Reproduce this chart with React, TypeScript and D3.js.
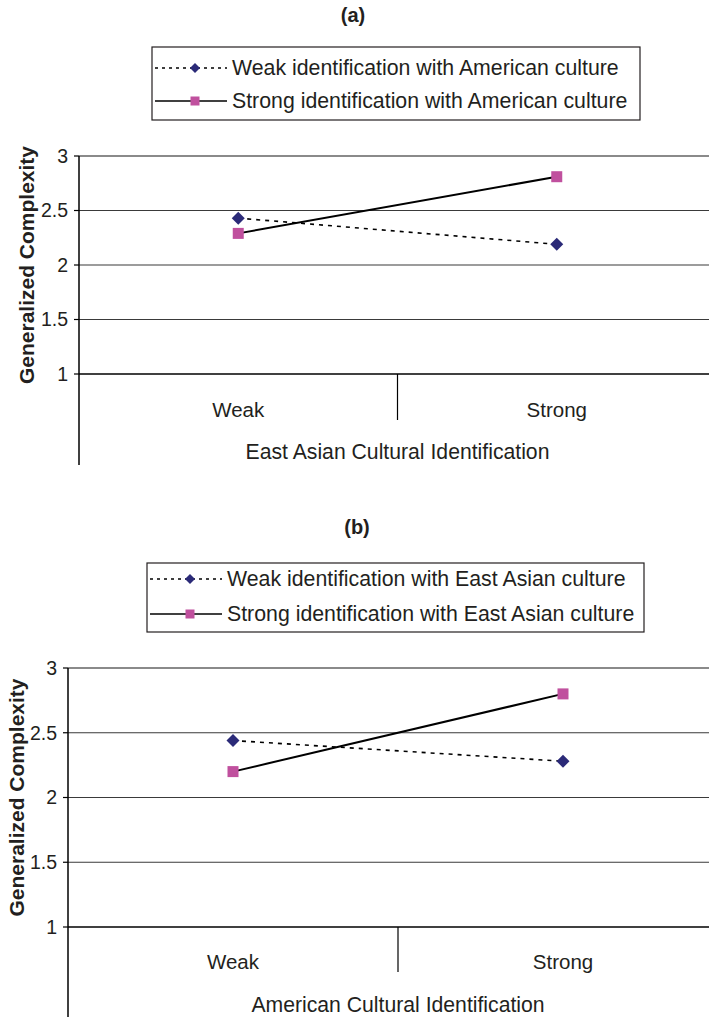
import React from "react";
import * as d3 from "d3";

const categories = ["Weak", "Strong"];
const yTicks = [1, 1.5, 2, 2.5, 3];

const panelATitle = "(a)";
const panelAXTitle = "East Asian Cultural Identification";
const panelASeriesNames = ["Weak identification with American culture", "Strong identification with American culture"];
const panelAWeak = [2.43, 2.19];
const panelAStrong = [2.29, 2.81];

const panelBTitle = "(b)";
const panelBXTitle = "American Cultural Identification";
const panelBSeriesNames = ["Weak identification with East Asian culture", "Strong identification with East Asian culture"];
const panelBWeak = [2.44, 2.28];
const panelBStrong = [2.2, 2.8];

const FONT = "'Liberation Sans', Arial, sans-serif";
const TEXT = "#231f20";
const NAVY = "#2b2a78";
const PINK = "#c0509e";

type PanelProps = {
  title: string;
  titleX: number;
  titleY: number;
  xTitle: string;
  names: string[];
  weak: number[];
  strong: number[];
  legend: { x: number; y: number; w: number; h: number; row1: number; row2: number };
  plot: { left: number; right: number; top: number; bottom: number; axisEnd: number; tickEnd: number; labelY: number; xTitleY: number };
  yTitleX: number;
};

function Diamond({ x, y, r }: { x: number; y: number; r: number }) {
  return <path d={`M${x},${y - r}L${x + r},${y}L${x},${y + r}L${x - r},${y}Z`} fill={NAVY} />;
}
function Square({ x, y, s }: { x: number; y: number; s: number }) {
  return <rect x={x - s / 2} y={y - s / 2} width={s} height={s} fill={PINK} />;
}

function Panel(p: PanelProps) {
  const { plot, legend } = p;
  const y = d3.scaleLinear().domain([1, 3]).range([plot.bottom, plot.top]);
  const band = d3.scaleBand().domain(categories).range([plot.left, plot.right]);
  const cx = (c: string) => (band(c) as number) + band.bandwidth() / 2;
  const line = d3
    .line<number>()
    .x((_, i) => cx(categories[i]))
    .y((d) => y(d));
  const divX = plot.left + band.bandwidth();
  const lx0 = legend.x + 3;
  const lx1 = legend.x + 75;
  const lm = (lx0 + lx1) / 2 + 4;
  return (
    <g>
      <text x={p.titleX} y={p.titleY} textAnchor="middle" fontFamily={FONT} fontWeight="bold" fontSize={20} fill={TEXT}>
        {p.title}
      </text>
      <rect x={legend.x} y={legend.y} width={legend.w} height={legend.h} fill="white" stroke={TEXT} strokeWidth={1.2} />
      <line x1={lx0} x2={lx1} y1={legend.row1} y2={legend.row1} stroke="#000" strokeWidth={1.5} strokeDasharray="3,4" />
      <Diamond x={lm} y={legend.row1} r={5} />
      <text x={lx1 + 5} y={legend.row1} dy="0.35em" fontFamily={FONT} fontSize={21.3} fill={TEXT}>
        {p.names[0]}
      </text>
      <line x1={lx0} x2={lx1} y1={legend.row2} y2={legend.row2} stroke="#000" strokeWidth={1.5} />
      <Square x={lm} y={legend.row2} s={9} />
      <text x={lx1 + 5} y={legend.row2} dy="0.35em" fontFamily={FONT} fontSize={21.3} fill={TEXT}>
        {p.names[1]}
      </text>

      {yTicks.map((t) => (
        <g key={t}>
          {t > 1 && (
            <line
              x1={plot.left}
              x2={plot.right}
              y1={y(t)}
              y2={y(t)}
              stroke={t === 3 ? "#8a8a8a" : "#3a3a3a"}
              strokeWidth={t === 3 ? 2 : 1.2}
            />
          )}
          <line x1={plot.left - 5} x2={plot.left} y1={y(t)} y2={y(t)} stroke="#000" strokeWidth={1.2} />
          <text x={plot.left - 11} y={y(t)} dy="0.35em" textAnchor="end" fontFamily={FONT} fontSize={19.5} fill={TEXT}>
            {t}
          </text>
        </g>
      ))}
      <line x1={plot.left} x2={plot.right} y1={y(1)} y2={y(1)} stroke="#000" strokeWidth={1.5} />
      <line x1={plot.left} x2={plot.left} y1={plot.top} y2={plot.axisEnd} stroke="#000" strokeWidth={1.5} />
      <line x1={divX} x2={divX} y1={y(1)} y2={plot.tickEnd} stroke="#000" strokeWidth={1.2} />
      {categories.map((c) => (
        <text key={c} x={cx(c)} y={plot.labelY} textAnchor="middle" fontFamily={FONT} fontSize={20.5} fill={TEXT}>
          {c}
        </text>
      ))}
      <text x={divX} y={plot.xTitleY} textAnchor="middle" fontFamily={FONT} fontSize={21.2} fill={TEXT}>
        {p.xTitle}
      </text>
      <text
        transform={`translate(${p.yTitleX},${(plot.top + plot.bottom) / 2}) rotate(-90)`}
        textAnchor="middle"
        fontFamily={FONT}
        fontWeight="bold"
        fontSize={21}
        fill={TEXT}
      >
        Generalized Complexity
      </text>

      <path d={line(p.weak) || ""} fill="none" stroke="#000" strokeWidth={1.6} strokeDasharray="4,5" />
      <path d={line(p.strong) || ""} fill="none" stroke="#000" strokeWidth={2} />
      {p.weak.map((v, i) => (
        <Diamond key={"w" + i} x={cx(categories[i])} y={y(v)} r={6.5} />
      ))}
      {p.strong.map((v, i) => (
        <Square key={"s" + i} x={cx(categories[i])} y={y(v)} s={11} />
      ))}
    </g>
  );
}

export default function App() {
  return (
    <svg width={709} height={1017} style={{ position: "absolute", left: 0, top: 0, background: "white" }}>
      <rect x={0} y={0} width={709} height={1017} fill="white" />
      <Panel
        title={panelATitle}
        titleX={353}
        titleY={22}
        xTitle={panelAXTitle}
        names={panelASeriesNames}
        weak={panelAWeak}
        strong={panelAStrong}
        legend={{ x: 152, y: 47, w: 488, h: 73, row1: 68, row2: 101 }}
        plot={{ left: 79, right: 716, top: 156, bottom: 374, axisEnd: 465, tickEnd: 420, labelY: 417, xTitleY: 459 }}
        yTitleX={34}
      />
      <Panel
        title={panelBTitle}
        titleX={357}
        titleY={534}
        xTitle={panelBXTitle}
        names={panelBSeriesNames}
        weak={panelBWeak}
        strong={panelBStrong}
        legend={{ x: 147, y: 563, w: 497, h: 69, row1: 579, row2: 614 }}
        plot={{ left: 68, right: 728, top: 668, bottom: 927, axisEnd: 1017, tickEnd: 972, labelY: 969, xTitleY: 1012 }}
        yTitleX={24}
      />
    </svg>
  );
}
